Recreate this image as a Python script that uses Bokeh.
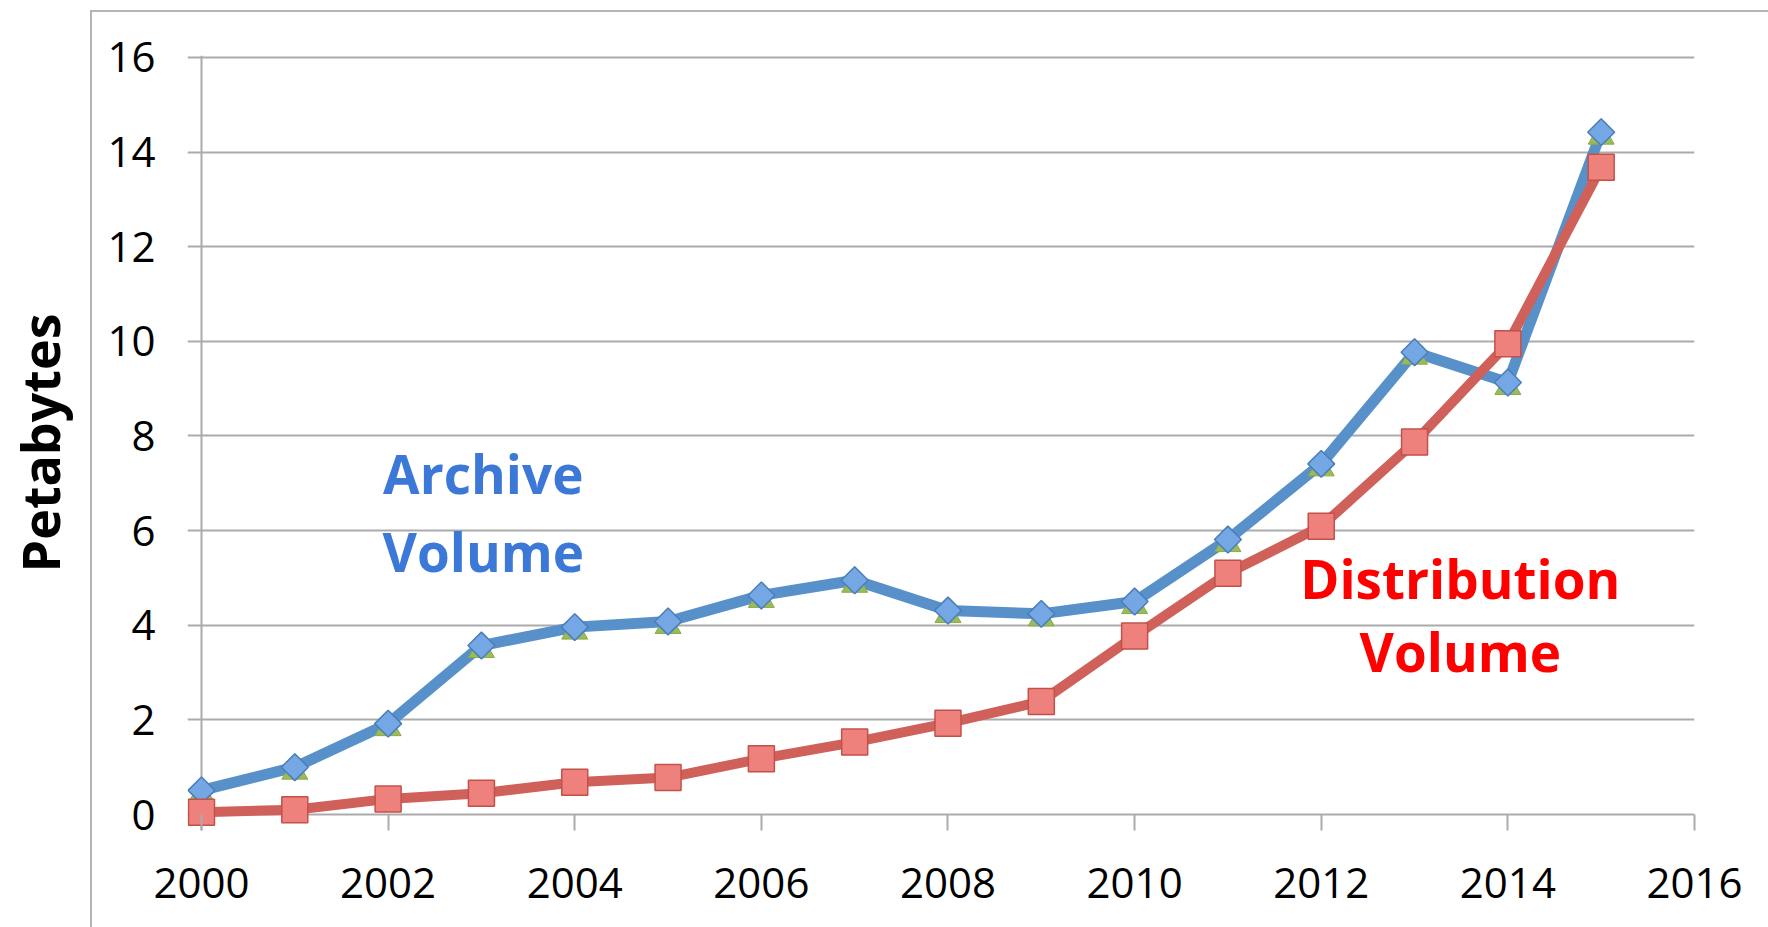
from bokeh.plotting import figure
from bokeh.models import Range1d, FixedTicker, Label, ColumnDataSource, Span
from bokeh.transform import dodge
from bokeh.embed import file_html
from bokeh.resources import INLINE

# ---- data ----
years = [2000, 2001, 2002, 2003, 2004, 2005, 2006, 2007,
         2008, 2009, 2010, 2011, 2012, 2013, 2014, 2015]
archive = [0.51, 1.00, 1.92, 3.57, 3.96, 4.08, 4.63, 4.95,
           4.31, 4.24, 4.50, 5.81, 7.41, 9.77, 9.13, 14.42]
distribution = [0.05, 0.10, 0.33, 0.45, 0.68, 0.78, 1.18, 1.53,
                1.93, 2.39, 3.77, 5.10, 6.09, 7.87, 9.95, 13.68]
x_ticks = [2000, 2002, 2004, 2006, 2008, 2010, 2012, 2014, 2016]
y_ticks = [0, 2, 4, 6, 8, 10, 12, 14, 16]
y_label = "Petabytes"
archive_label = ["Archive", "Volume"]
distribution_label = ["Distribution", "Volume"]

src = ColumnDataSource(dict(year=years, archive=archive, distribution=distribution))

W, H = 1768, 927
FONT = "Open Sans"
GRID = "#ababab"
BORDER = "#b4b4b4"

# small padding of the ranges so that edge markers and tick marks are not clipped
p = figure(width=W, height=H, output_backend="svg", toolbar_location=None,
           x_range=Range1d(1999.85, 2016), y_range=Range1d(-0.338, 16.04),
           min_border_left=187, min_border_right=74,
           min_border_top=55, min_border_bottom=97)
p.outline_line_color = None
p.background_fill_color = "white"
p.border_fill_color = None
# outer chart-area frame (left and top edges), drawn behind the transparent canvas border
p.styles = {
    "background-color": "white",
    "background-image": f"linear-gradient({BORDER}, {BORDER}), linear-gradient({BORDER}, {BORDER})",
    "background-size": "2px 100%, 100% 2px",
    "background-position": "90px 10px, 90px 10px",
    "background-repeat": "no-repeat",
}

# axes
p.xaxis.ticker = FixedTicker(ticks=x_ticks)
p.yaxis.ticker = FixedTicker(ticks=y_ticks)
for ax in (p.xaxis, p.yaxis):
    ax.axis_line_color = None
    ax.major_tick_line_color = GRID
    ax.major_tick_line_width = 2
    ax.minor_tick_line_color = None
    ax.major_label_text_font = FONT
    ax.major_label_text_font_size = "42px"
    ax.major_label_text_color = "black"
p.yaxis.major_tick_out = 0
p.yaxis.major_tick_in = 0
p.yaxis.major_label_standoff = 32
p.xaxis.major_tick_out = 0
p.xaxis.major_tick_in = 16
p.xaxis.major_label_standoff = 37

p.yaxis.axis_label = y_label
p.yaxis.axis_label_text_font = FONT
p.yaxis.axis_label_text_font_size = "52px"
p.yaxis.axis_label_text_font_style = "bold"
p.yaxis.axis_label_text_color = "black"
p.yaxis.axis_label_standoff = 29

p.xgrid.grid_line_color = None
p.ygrid.grid_line_color = GRID
p.ygrid.grid_line_width = 2

# vertical value-axis line at the first category
p.add_layout(Span(location=2000, dimension="height", line_color=GRID,
                  line_width=2, level="underlay"))

# Archive series
p.line("year", "archive", source=src, line_color="#5891c9", line_width=11,
       line_join="round")
p.scatter(x="year", y=dodge("archive", -0.095, range=p.y_range), source=src,
          marker="triangle", size=26, fill_color="#9bbb59", line_color="#8aab48",
          line_width=1)
p.scatter("year", "archive", source=src, marker="square", angle=0.785398,
          size=19, fill_color="#74a7e3", line_color="#4a7ebb", line_width=1.5)

# Distribution series
p.line("year", "distribution", source=src, line_color="#d0605a", line_width=10,
       line_join="round")
p.scatter("year", "distribution", source=src, marker="square", size=26,
          fill_color="#ee817c", line_color="#c4504b", line_width=1.5)

# text annotations
def add_text(txt, x, y, color):
    p.add_layout(Label(x=x, y=y, text=txt, text_align="center",
                       text_baseline="middle", text_font=FONT,
                       text_font_size="53px", text_font_style="bold",
                       text_color=color))

add_text(archive_label[0], 2003.02, 7.21, "#3b78d8")
add_text(archive_label[1], 2003.02, 5.56, "#3b78d8")
add_text(distribution_label[0], 2013.49, 4.98, "#ff0000")
add_text(distribution_label[1], 2013.49, 3.45, "#ff0000")

open("out.html", "w").write(file_html(p, INLINE))
